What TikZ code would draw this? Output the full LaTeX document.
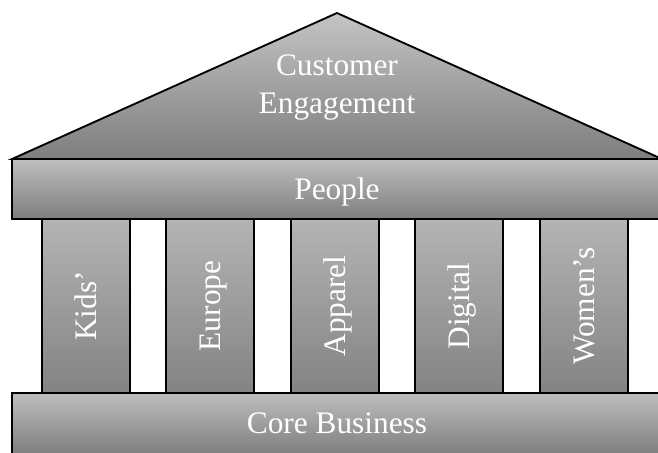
\documentclass[tikz,border=0pt]{standalone}
\usepackage{fontspec}
\setmainfont{Liberation Serif}
\definecolor{barlight}{HTML}{BEBEBE}
\definecolor{bardark}{HTML}{7E7E7E}
\definecolor{pillight}{HTML}{B4B4B4}
\definecolor{pildark}{HTML}{838383}
\definecolor{rooflight}{HTML}{C4C4C4}
\begin{document}
\begin{tikzpicture}[x=0.75pt,y=-0.75pt,
  lbl/.style={text=white,font=\fontsize{23.5}{28.5}\selectfont,inner sep=0pt,
    text height=15.5pt,text depth=0pt},
  bar/.style={lbl,draw=black,line width=1.4pt,top color=barlight,bottom color=bardark,
    minimum width=650*0.75pt,outer sep=0pt},
  pillar/.style={draw=black,line width=1.4pt,top color=pillight,bottom color=pildark,
    minimum width=88*0.75pt,minimum height=174*0.75pt,inner sep=0pt,outer sep=0pt},
  vlbl/.style={lbl,rotate=90},
  roof/.style={draw=black,line width=1.4pt,top color=rooflight,bottom color=bardark,line join=miter}]
\useasboundingbox (0,0) rectangle (658,453);
\clip (0,0) rectangle (658,453);
% pillars
\node[pillar] (kids) at (86,306) {};
\node[pillar] (europe) at (210,306) {};
\node[pillar] (apparel) at (335,306) {};
\node[pillar] (digital) at (459,306) {};
\node[pillar] (womens) at (584,306) {};
\node[vlbl] (kidsText) at (kids.center) {Kids'};
\node[vlbl] (europeText) at (europe.center) {Europe};
\node[vlbl] (apparelText) at (apparel.center) {Apparel};
\node[vlbl] (digitalText) at (digital.center) {Digital};
\node[vlbl] (womensText) at (womens.center) {Women's};
% roof
\draw[roof] (12,159) -- (337,13) -- (662,159) -- cycle;
\node[lbl,align=center,text height=,text depth=] (roofText) at (337,88) {Customer\\Engagement};
% bars
\node[bar,minimum height=60*0.75pt] (people) at (337,189) {People};
\node[bar,minimum height=61*0.75pt] (core) at (337,423.5) {Core Business};
\end{tikzpicture}
\end{document}
